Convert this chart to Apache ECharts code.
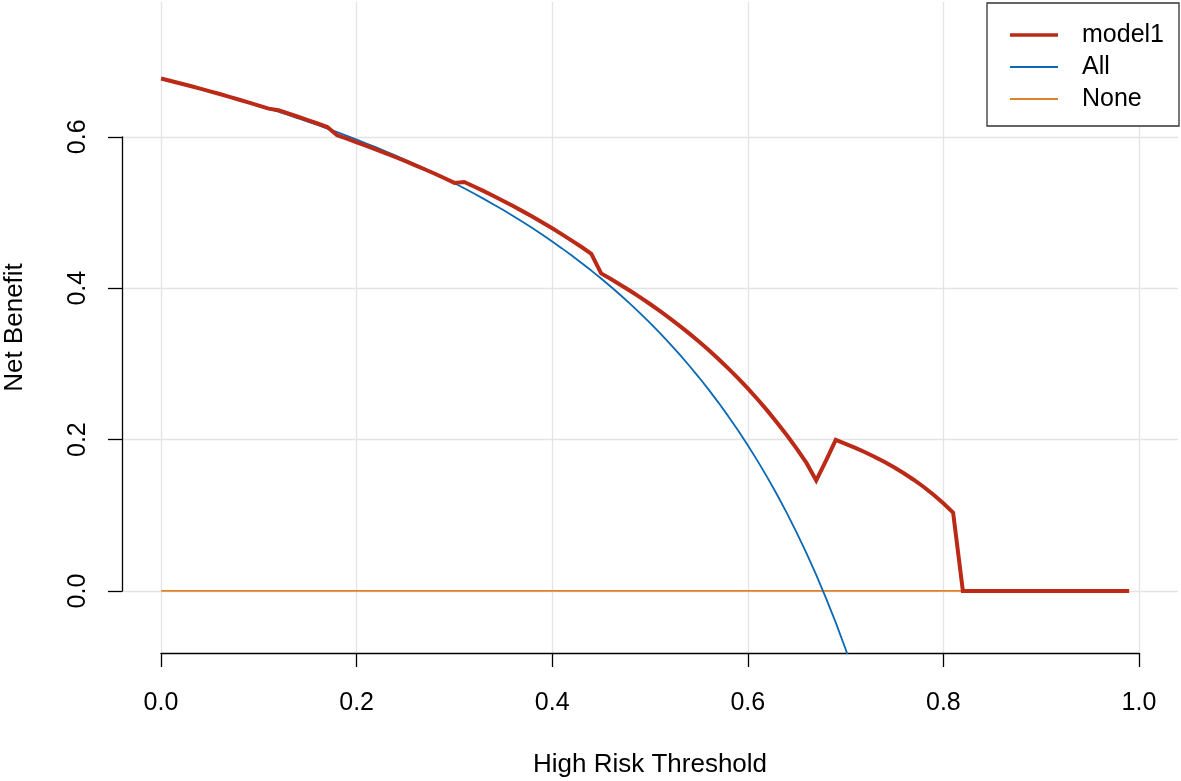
<!DOCTYPE html>
<html>
<head>
<meta charset="utf-8">
<script src="https://cdn.jsdelivr.net/npm/echarts@6/dist/echarts.min.js"></script>
<style>
html,body{margin:0;padding:0;background:#fff;}
#chart{width:1181px;height:781px;}
</style>
</head>
<body>
<div id="chart"></div>
<script>
// ---- data ----
const thresholds = [
  0.00,0.01,0.02,0.03,0.04,0.05,0.06,0.07,0.08,0.09,
  0.10,0.11,0.12,0.13,0.14,0.15,0.16,0.17,0.18,0.19,
  0.20,0.21,0.22,0.23,0.24,0.25,0.26,0.27,0.28,0.29,
  0.30,0.31,0.32,0.33,0.34,0.35,0.36,0.37,0.38,0.39,
  0.40,0.41,0.42,0.43,0.44,0.45,0.46,0.47,0.48,0.49,
  0.50,0.51,0.52,0.53,0.54,0.55,0.56,0.57,0.58,0.59,
  0.60,0.61,0.62,0.63,0.64,0.65,0.66,0.67,0.68,0.69,
  0.70,0.71,0.72,0.73,0.74,0.75,0.76,0.77,0.78,0.79,
  0.80,0.81,0.82,0.83,0.84,0.85,0.86,0.87,0.88,0.89,
  0.90,0.91,0.92,0.93,0.94,0.95,0.96,0.97,0.98,0.99
];
const model1Values = [
  0.6770,0.6737,0.6704,0.6670,0.6635,0.6600,0.6564,0.6527,0.6489,0.6451,
  0.6411,0.6371,0.6350,0.6307,0.6264,0.6220,0.6175,0.6128,0.6019,0.5974,
  0.5927,0.5880,0.5831,0.5781,0.5729,0.5677,0.5622,0.5567,0.5511,0.5451,
  0.5390,0.5403,0.5343,0.5281,0.5217,0.5152,0.5084,0.5014,0.4942,0.4867,
  0.4790,0.4710,0.4628,0.4543,0.4454,0.4195,0.4120,0.4042,0.3962,0.3877,
  0.3790,0.3699,0.3604,0.3505,0.3402,0.3294,0.3182,0.3064,0.2940,0.2811,
  0.2675,0.2532,0.2382,0.2223,0.2056,0.1879,0.1691,0.1460,0.1720,0.1995,
  0.1944,0.1890,0.1832,0.1770,0.1702,0.1630,0.1551,0.1466,0.1373,0.1271,
  0.1159,0.1035,0,0,0,0,0,0,0,0,
  0,0,0,0,0,0,0,0,0,0
];
const allValues = [
  0.6770,0.6737,0.6704,0.6670,0.6635,0.6600,0.6564,0.6527,0.6489,0.6451,
  0.6411,0.6371,0.6330,0.6287,0.6244,0.6200,0.6155,0.6108,0.6061,0.6012,
  0.5963,0.5911,0.5859,0.5805,0.5750,0.5693,0.5635,0.5575,0.5514,0.5451,
  0.5386,0.5319,0.5250,0.5179,0.5106,0.5031,0.4953,0.4873,0.4790,0.4705,
  0.4617,0.4525,0.4431,0.4333,0.4232,0.4127,0.4018,0.3906,0.3788,0.3667,
  0.3540,0.3408,0.3271,0.3128,0.2978,0.2822,0.2659,0.2488,0.2309,0.2122,
  0.1925,0.1718,0.1500,0.1270,0.1028,0.0771,0.0500,0.0212,-0.0094,-0.0419,
  -0.0767,-0.1138
];
const noneThresholds = [0.00, 0.99];
const noneValues = [0, 0];
const xTickLabels = ['0.0','0.2','0.4','0.6','0.8','1.0'];
const yTickLabels = ['0.0','0.2','0.4','0.6'];
const seriesNames = ['model1','All','None'];

const pairs = (xs, ys) => ys.map((v, i) => [xs[i], v]);

const FONT = "'Liberation Sans', Arial, Helvetica, sans-serif";
const RED = '#BA2A17', BLUE = '#0A68B4', ORANGE = '#E0822A';
const GRIDC = '#e4e4e4';

const chart = echarts.init(document.getElementById('chart'), null, {renderer: 'canvas'});
chart.setOption({
  animation: false,
  backgroundColor: '#ffffff',
  textStyle: {fontFamily: FONT},
  grid: [
    {left: 161, right: 42, top: 2, bottom: 128, containLabel: false, outerBoundsMode: 'none'},
    {left: 122, right: 3, top: 136.8, bottom: 190, containLabel: false, outerBoundsMode: 'none'},
    {left: 122, right: 3, top: 2, bottom: 128, containLabel: false, outerBoundsMode: 'none'}
  ],
  xAxis: [
    {
      gridIndex: 0, type: 'value', min: 0, max: 1, interval: 0.2,
      axisLine: {show: true, lineStyle: {color: '#000', width: 1.3}},
      axisTick: {show: true, inside: false, length: 14, lineStyle: {color: '#000', width: 1.3}},
      axisLabel: {
        margin: 38, fontSize: 25, color: '#000', fontFamily: FONT,
        formatter: v => xTickLabels[Math.round(v / 0.2)]
      },
      splitLine: {show: true, lineStyle: {color: GRIDC, width: 1.3}},
      name: 'High Risk Threshold', nameLocation: 'middle', nameGap: 99,
      nameTextStyle: {fontSize: 26, color: '#000', fontFamily: FONT}
    },
    {gridIndex: 1, type: 'value', min: 0, max: 1, show: false},
    {gridIndex: 2, type: 'value', min: -0.04, max: 1.04, show: false}
  ],
  yAxis: [
    {gridIndex: 0, type: 'value', min: 0, max: 1, show: false},
    {
      gridIndex: 1, type: 'value', min: 0, max: 0.6, interval: 0.2,
      axisLine: {show: true, lineStyle: {color: '#000', width: 1.3}},
      axisTick: {show: true, inside: false, length: 14, lineStyle: {color: '#000', width: 1.3}},
      axisLabel: {
        margin: 31, fontSize: 25, color: '#000', rotate: 90, fontFamily: FONT,
        formatter: v => yTickLabels[Math.round(v / 0.2)]
      },
      splitLine: {show: true, lineStyle: {color: GRIDC, width: 1.3}}
    },
    {
      gridIndex: 2, type: 'value', min: -0.082, max: 0.778,
      axisLine: {show: false}, axisTick: {show: false}, axisLabel: {show: false},
      splitLine: {show: false},
      name: 'Net Benefit', nameLocation: 'middle', nameRotate: 90, nameGap: 94,
      nameTextStyle: {fontSize: 26, color: '#000', fontFamily: FONT}
    }
  ],
  legend: {
    orient: 'vertical', left: 987, top: 3,
    padding: [16, 15, 11, 23], itemGap: 0,
    itemWidth: 48, itemHeight: 4,
    borderColor: '#333', borderWidth: 1.3,
    backgroundColor: '#fff',
    selectedMode: false,
    textStyle: {
      fontSize: 25, lineHeight: 32, color: '#000', fontFamily: FONT,
      rich: {g: {width: 19, lineHeight: 32}}
    },
    formatter: name => '{g|}' + name,
    data: [
      {name: seriesNames[0], icon: 'path://M0,0H48V3.4H0Z', itemStyle: {color: RED}},
      {name: seriesNames[1], icon: 'path://M0,0H48V1.8H0Z', itemStyle: {color: BLUE}},
      {name: seriesNames[2], icon: 'path://M0,0H48V1.8H0Z', itemStyle: {color: ORANGE}}
    ]
  },
  series: [
    {
      name: seriesNames[2], type: 'line', xAxisIndex: 2, yAxisIndex: 2,
      data: pairs(noneThresholds, noneValues), showSymbol: false, symbol: 'none',
      lineStyle: {color: ORANGE, width: 1.8}, itemStyle: {color: ORANGE}, z: 2, clip: true
    },
    {
      name: seriesNames[1], type: 'line', xAxisIndex: 2, yAxisIndex: 2,
      data: pairs(thresholds, allValues), showSymbol: false, symbol: 'none',
      lineStyle: {color: BLUE, width: 1.8}, itemStyle: {color: BLUE}, z: 3, clip: true
    },
    {
      name: seriesNames[0], type: 'line', xAxisIndex: 2, yAxisIndex: 2,
      data: pairs(thresholds, model1Values), showSymbol: false, symbol: 'none',
      lineStyle: {color: RED, width: 4, join: 'miter'}, itemStyle: {color: RED}, z: 4, clip: true
    }
  ]
});
</script>
</body>
</html>
